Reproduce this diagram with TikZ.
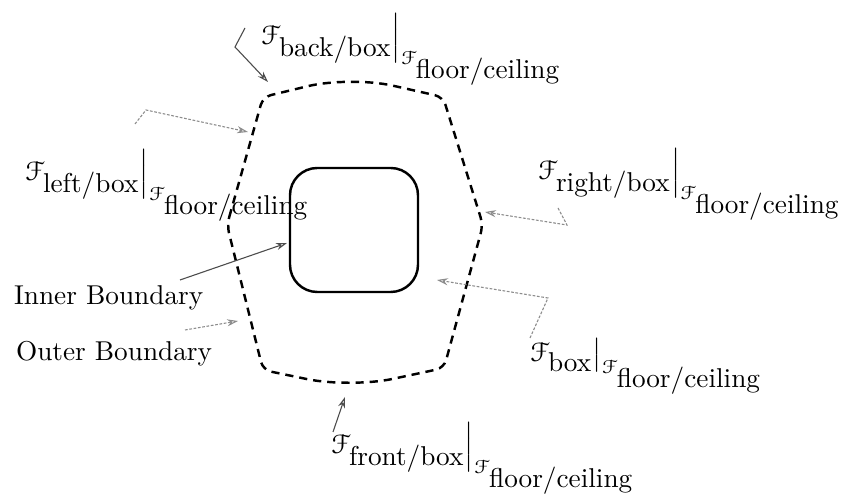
\documentclass[tikz,border=0pt]{standalone}
\usepackage{amsmath}
\usepackage{eucal}
\usetikzlibrary{arrows.meta}

% restricted face label
\newcommand{\facelabel}[2]{$\left.\mathcal{F}_{\mbox{#1}}\right|_{\mathcal{F}_{\mbox{#2}}}$}

\begin{document}
\begin{tikzpicture}[x=0.0129cm, y=-0.0129cm, line width=0.8pt,
    outerline/.style={dash pattern=on 3pt off 2.2pt, line width=0.9pt},
    innerline/.style={line width=0.9pt},
    pointer/.style={line width=0.4pt, black!70},
    faint/.style={line width=0.4pt, black!45, dash pattern=on 1pt off 0.6pt},
    tip/.style={-{Stealth[open, length=4pt, width=2.6pt]}},
    lbl/.style={anchor=base west, inner sep=0pt}]
    \useasboundingbox (0,0) rectangle (842,497);

    % Outer boundary
    \draw[outerline, rounded corners=3pt] (227,225) -- (263,97)
        [rounded corners=16pt] -- (350,76) [rounded corners=3pt] -- (443,97)
        -- (483,225) -- (444,368) [rounded corners=16pt] -- (350,388)
        [rounded corners=3pt] -- (263,370) -- cycle;

    % Inner boundary
    \draw[innerline, rounded corners=10pt] (290,168) rectangle (418,292);

    % Labels
    \node[lbl] (back)  at (257,45)  {\facelabel{back/box}{floor/ceiling}};
    \node[lbl] (left)  at (21,181)  {\facelabel{left/box}{floor/ceiling}};
    \node[lbl] (right) at (534,180) {\facelabel{right/box}{floor/ceiling}};
    \node[lbl] (box)   at (526,362) {\facelabel{box}{floor/ceiling}};
    \node[lbl] (front) at (327,454) {\facelabel{front/box}{floor/ceiling}};
    \node[anchor=west, inner sep=0pt] (inner) at (13,298) {Inner Boundary};
    \node[anchor=west, inner sep=0pt] (outer) at (15,354) {Outer Boundary};

    % Pointer ends
    \coordinate (backA) at (245,28);  \coordinate (backB) at (235,47);
    \coordinate (backT) at (268,82);
    \coordinate (leftA) at (135,124); \coordinate (leftB) at (146,110);
    \coordinate (leftT) at (248,132);
    \coordinate (rightA) at (558,208); \coordinate (rightB) at (567,225);
    \coordinate (rightT) at (485,212);
    \coordinate (boxA) at (530,338);  \coordinate (boxB) at (548,298);
    \coordinate (boxT) at (437,280);
    \coordinate (frontA) at (333,432); \coordinate (frontT) at (345,397);
    \coordinate (innerA) at (180,280); \coordinate (innerT) at (287,243);
    \coordinate (outerA) at (185,330); \coordinate (outerT) at (238,321);

    % Pointers
    \draw[pointer, tip] (backA) -- (backB) -- (backT);
    \draw[faint, tip] (leftA) -- (leftB) -- (leftT);
    \draw[faint, tip] (rightA) -- (rightB) -- (rightT);
    \draw[faint, tip] (boxA) -- (boxB) -- (boxT);
    \draw[pointer, tip] (frontA) -- (frontT);
    \draw[pointer, tip] (innerA) -- (innerT);
    \draw[faint, tip] (outerA) -- (outerT);
\end{tikzpicture}
\end{document}
